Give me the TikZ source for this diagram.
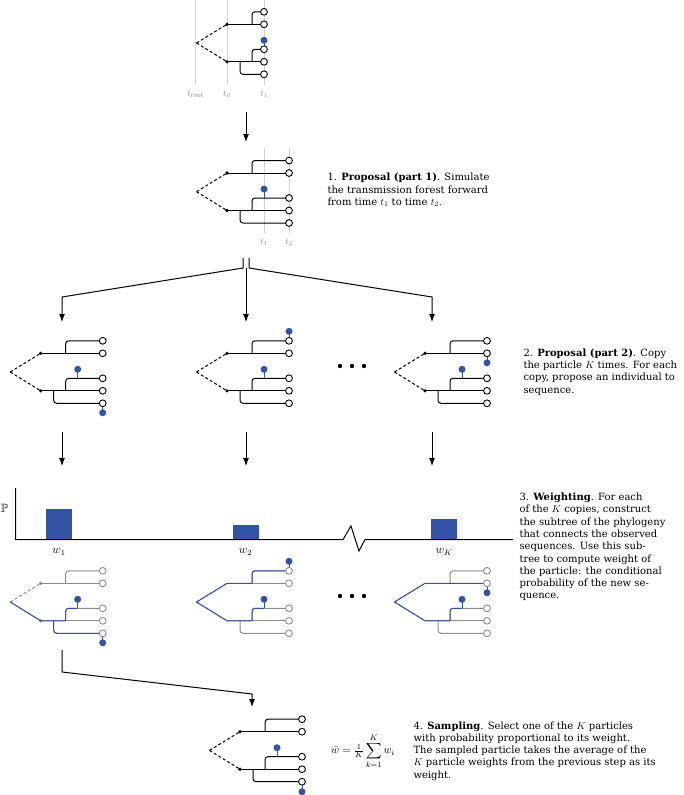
\documentclass[tikz,border=0pt]{standalone}
\usepackage{amsmath,amssymb}
\usepackage{fontspec}
\setmainfont{DejaVu Serif}
\usetikzlibrary{arrows.meta}
\definecolor{sampblue}{RGB}{52,83,165}
\definecolor{timegray}{RGB}{208,208,208}
\tikzset{
  leaf/.style={circle,draw,fill=white,line width=0.9pt,inner sep=0pt,minimum size=6.8pt},
  sample/.style={circle,fill=sampblue,inner sep=0pt,minimum size=7pt},
  knot/.style={circle,fill,inner sep=0pt,minimum size=3.6pt},
  link/.style={dash pattern=on 3pt off 2.2pt},
  stem/.style={sampblue,line width=1pt},
  timeline/.style={timegray,line width=0.6pt},
  timelabel/.style={black!45,font=\fontsize{9}{10}\selectfont},
  blurb/.style={anchor=west,align=left,inner sep=0pt,font=\fontsize{10}{12.3}\selectfont},
  bar/.style={fill=sampblue,minimum width=26pt,inner sep=0pt,anchor=south},
}
% one particle: [end of lineages]{name}{shift}{options}{extras}
\newcommand{\ptree}[5][62]{%
  \begin{scope}[shift={#3},#4]
    \draw[link] (-30.5,18.7) -- (0,0);
    \draw[link] (-30.5,18.7) -- (0,37.5);
    \draw (0,0) -- (#1,0);
    \draw[rounded corners=3pt] (25,0) |- (#1,-12.5);
    \draw (0,37.5) -- (#1,37.5);
    \draw[rounded corners=3pt] (25,37.5) |- (#1,25);
    \draw[rounded corners=3pt] (13,37.5) |- (#1,50);
    \node[knot] (#2-up) at (0,0) {};
    \node[knot] (#2-low) at (0,37.5) {};
    #5
    \draw[stem] (37,25) -- (37,16) node[sample] (#2-old) {};
    \foreach \yy [count=\i] in {-12.5,0,25,37.5,50}
      \node[leaf] (#2-\i) at (#1,\yy) {};
  \end{scope}}
\begin{document}
\begin{tikzpicture}[x=1pt,y=-1pt,line width=1pt,>={Latex[length=8pt,width=6pt]}]
  \useasboundingbox (0,0) rectangle (683,795);

  % time axes
  \draw[timeline] (195.5,0) -- (195.5,85) (227,0) -- (227,85) (264,0) -- (264,85);
  \path (195.5,94) node[timelabel](troot){$t_{\mathrm{root}}$}
        (227,94) node[timelabel](tzero){$t_0$}
        (264,94) node[timelabel](tone){$t_1$};
  \draw[timeline] (264,148) -- (264,233) (289,148) -- (289,233);
  \path (264,242) node[timelabel](tonenext){$t_1$}
        (289,242) node[timelabel](ttwo){$t_2$};

  % particles
  \ptree[37]{start}{(227,24.3)}{}{}
  \ptree{prop}{(227,173)}{}{}
  \ptree{copyA}{(40.7,353.3)}{}{\draw[stem] (62,50) -- (62,59.5) node[sample](copyA-new){};}
  \ptree{copyB}{(227,353.3)}{}{\draw[stem] (62,-12.5) -- (62,-22) node[sample](copyB-new){};}
  \ptree{copyC}{(425,353.3)}{}{\draw[stem] (62,0) -- (62,9.5) node[sample](copyC-new){};}

  % subtrees of the sequences
  \ptree{subA}{(40.7,583.3)}{black!45}{%
    \draw[sampblue] (-30.5,18.7) -- (0,37.5) -- (25,37.5);
    \draw[sampblue,rounded corners=3pt] (25,37.5) |- (37,25);
    \draw[sampblue,rounded corners=3pt] (13,37.5) |- (62,50);
    \draw[stem] (62,50) -- (62,59.5) node[sample](subA-new){};}
  \ptree{subB}{(227,583.3)}{black!45,knot/.style={}}{%
    \draw[sampblue] (-30.5,18.7) -- (0,0) -- (25,0);
    \draw[sampblue,rounded corners=3pt] (25,0) |- (62,-12.5);
    \draw[sampblue] (-30.5,18.7) -- (0,37.5) -- (25,37.5);
    \draw[sampblue,rounded corners=3pt] (25,37.5) |- (37,25);
    \draw[stem] (62,-12.5) -- (62,-22) node[sample](subB-new){};}
  \ptree{subC}{(425,583.3)}{black!45,knot/.style={}}{%
    \draw[sampblue] (-30.5,18.7) -- (0,0) -- (62,0);
    \draw[sampblue] (-30.5,18.7) -- (0,37.5) -- (25,37.5);
    \draw[sampblue,rounded corners=3pt] (25,37.5) |- (37,25);
    \draw[stem] (62,0) -- (62,9.5) node[sample](subC-new){};}

  \ptree{pick}{(240,731.7)}{}{\draw[stem] (62,50) -- (62,60) node[sample](pick-new){};}

  % the other copies
  \foreach \xx [count=\i] in {340,352,364} {
    \node[knot,minimum size=4.4pt] (moreA\i) at (\xx,366) {};
    \node[knot,minimum size=4.4pt] (moreB\i) at (\xx,596) {};
  }

  % weights
  \draw (15.7,488) -- (15.7,539.5) -- (343,539.5) -- (351,526) -- (359,551) -- (365,539.5) -- (513,539.5);
  \node[font=\fontsize{12}{12}\selectfont] (prob) at (4.5,508.5) {$\mathbb{P}$};
  \node[bar,minimum height=30.5pt] (barA) at (59,539.5) {};
  \node[bar,minimum height=14.5pt] (barB) at (245.5,539.5) {};
  \node[bar,minimum height=20.5pt] (barC) at (444,539.5) {};
  \path[font=\fontsize{12}{12}\selectfont] (59,552) node(wA){$w_1$}
        (245.5,552) node(wB){$w_2$} (444,552) node(wC){$w_K$};

  % connectors
  \coordinate (startout) at (246,112);
  \coordinate (propin) at (246,142);
  \draw[->] (startout) -- (propin);

  \coordinate (splitL) at (243,258);
  \coordinate (bendL) at (243,268);
  \coordinate (kneeL) at (62,297);
  \coordinate (copyAin) at (62,322);
  \coordinate (splitR) at (249,258);
  \coordinate (bendR) at (249,268);
  \coordinate (kneeR) at (432,297);
  \coordinate (copyCin) at (432,322);
  \coordinate (splitM) at (246,268);
  \coordinate (copyBin) at (246,322);
  \draw[->] (splitL) -- (bendL) -- (kneeL) -- (copyAin);
  \draw[->] (splitR) -- (bendR) -- (kneeR) -- (copyCin);
  \draw[->] (splitM) -- (copyBin);

  \foreach \xx/\nn in {62/A,246/B,432/C} {
    \coordinate (copy\nn out) at (\xx,432);
    \coordinate (weight\nn in) at (\xx,466);
    \draw[->] (copy\nn out) -- (weight\nn in);
  }

  \coordinate (subAout) at (62,650);
  \coordinate (pickbend) at (62,672);
  \coordinate (pickknee) at (252,694);
  \coordinate (pickin) at (252,707);
  \draw[->] (subAout) -- (pickbend) -- (pickknee) -- (pickin);

  % texts
  \node[blurb] (step1) at (327,190) {1. \textbf{Proposal (part 1)}. Simulate\\the transmission forest forward\\from time $t_1$ to time $t_2$.};
  \node[blurb] (step2) at (523,372) {2. \textbf{Proposal (part 2)}. Copy\\the particle $K$ times. For each\\copy, propose an individual to\\sequence.};
  \node[blurb] (step3) at (519,547) {3. \textbf{Weighting}. For each\\of the $K$ copies, construct\\the subtree of the phylogeny\\that connects the observed\\sequences. Use this sub-\\tree to compute weight of\\the particle: the conditional\\probability of the new se-\\quence.};
  \node[font=\fontsize{11}{13}\selectfont] (wbar) at (363,751) {$\displaystyle \bar{w} = \tfrac{1}{K}\sum_{k=1}^{K} w_i$};
  \node[blurb] (step4) at (413,751) {4. \textbf{Sampling}. Select one of the $K$ particles\\with probability proportional to its weight.\\The sampled particle takes the average of the\\$K$ particle weights from the previous step as its\\weight.};
\end{tikzpicture}
\end{document}
